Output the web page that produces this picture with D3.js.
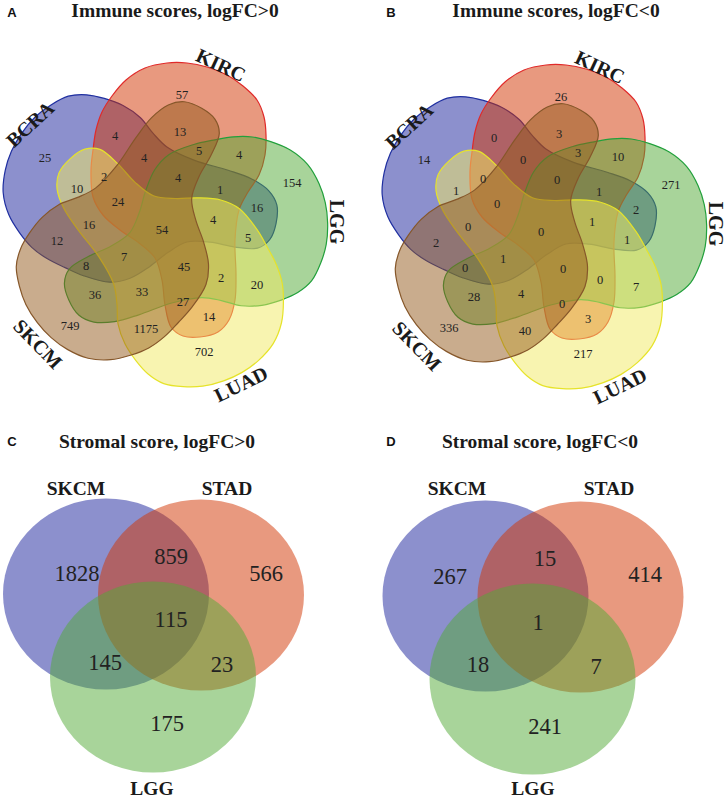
<!DOCTYPE html>
<html><head><meta charset="utf-8">
<script src="https://cdn.jsdelivr.net/npm/d3@7"></script>
<style>body{margin:0;background:#fff} svg{display:block}</style>
</head><body>
<svg id="chart" width="726" height="798"></svg>
<script>
// ================= DATA =================
const fiveSets = ["BCRA", "KIRC", "LGG", "LUAD", "SKCM"];
const fiveKeys = ["B","K","G","L","S"];
const fiveRegions = ["B","K","G","L","S","BK","KS","KGS","KG","BKS","BKL","BL","BKGS","BKG","BKLS","BG","BLS","BKGLS","BKGL","BS","BGL","BGLS","BGS","KGLS","KGL","GL","GS","GLS","KLS","KL","LS"];
const immuneUp   = [25,57,154,702,749,4,13,5,4,4,2,10,4,1,24,16,16,54,4,12,5,7,8,45,2,20,36,33,27,14,1175];
const immuneDown = [14,26,271,217,336,0,3,3,10,0,0,1,0,1,0,2,0,0,1,2,1,1,0,0,0,7,28,4,0,3,40];

const threeSets = ["SKCM", "STAD", "LGG"];
const threeRegions = ["S","ST","T","STL","SL","TL","L"];
const stromalUp   = [1828,859,566,115,145,23,175];
const stromalDown = [267,15,414,1,18,7,241];

const titles = ["Immune scores, logFC>0","Immune scores, logFC<0","Stromal score, logFC>0","Stromal score, logFC<0"];
const panelLetters = ["A","B","C","D"];

// ================= LAYOUT / STYLE =================
const SERIF = "'Liberation Serif', 'Times New Roman', serif";
const SANS = "'Liberation Sans', Arial, sans-serif";
const colors5 = {B:"#1a229c", K:"#d23300", G:"#52aa36", L:"#f2ea62", S:"#935a1c"};
const strokes5 = {B:"#1f2fa0", K:"#e02a2a", G:"#22a03c", L:"#e6e32a", S:"#86572a"};
const colors3 = ["#1a229c","#d23300","#52aa36"];

// petal template (KIRC petal, relative to diagram centre); other petals are rotations by 72 deg
const petal = [[-69,-58],[-67,-78],[-64,-98],[-58,-116],[-48,-132],[-34,-148],[-15,-160],[7,-165],[27,-165],[47,-161],[67,-153],[83,-142],[97,-128],[104,-111],[106,-93],[105,-73],[99,-53],[88,-36],[79,-18],[75,12],[76,47],[75,72],[69,92],[58,104],[40,109],[23,108],[11,99],[5,77],[2,52],[-5,30],[-21,15],[-40,2],[-57,-13],[-67,-31]];
const petalAngle = {B:-72, K:0, G:72, L:144, S:216};
const petalShift = {B:[0,0], K:[0,0], G:[0,0], L:[7,-5], S:[10,-8]};

const regionPos5 = {B:[45,158],K:[182,95],G:[292,183],L:[204,352],S:[70,326],BK:[115,136],KS:[180,132],KGS:[199,151],KG:[239,155],BKS:[144,158],BKL:[104,177],BL:[77,189],BKGS:[178,178],BKG:[220,190],BKLS:[118,202],BG:[257,208],BLS:[89,225],BKGLS:[162,230],BKGL:[213,220],BS:[57,241],BGL:[248,238],BGLS:[124,257],BGS:[86,266],KGLS:[184,267],KGL:[221,278],GL:[257,285],GS:[95,295],GLS:[142,292],KLS:[183,302],KL:[209,317],LS:[146,329]};
const setLabelPos5 = {B:[30,124,-43], K:[221,65,25], G:[337,222,90], L:[241,384,-26], S:[38,344,46]};
const centre5 = [160,228];

const svg = d3.select("#chart");

function fivePanel(offset, values) {
  const x = d3.scaleLinear().domain([0,1]).range([offset[0], offset[0]+1]);
  const y = d3.scaleLinear().domain([0,1]).range([offset[1], offset[1]+1]);
  const g = svg.append("g");
  const line = d3.line().x(d=>x(d[0])).y(d=>y(d[1])).curve(d3.curveCatmullRomClosed.alpha(0.5));
  fiveKeys.forEach(k => {
    const a = petalAngle[k]*Math.PI/180, c = Math.cos(a), s = Math.sin(a);
    const sh = petalShift[k];
    const pts = petal.map(([px,py]) => [centre5[0] + sh[0] + px*c - py*s, centre5[1] + sh[1] + px*s + py*c]);
    g.append("path").attr("d", line(pts))
      .attr("fill", colors5[k]).attr("fill-opacity", 0.5)
      .attr("stroke", strokes5[k]).attr("stroke-width", 1.2);
  });
  fiveRegions.forEach((r,i) => {
    const p = regionPos5[r];
    g.append("text").attr("x", x(p[0])).attr("y", y(p[1])).attr("dy","0.35em")
      .attr("text-anchor","middle").style("font-family", SERIF)
      .attr("font-size", 12.5).attr("fill","#222").text(values[i]);
  });
  fiveKeys.forEach((k,i) => {
    const p = setLabelPos5[k];
    g.append("text").attr("transform", `translate(${x(p[0])},${y(p[1])}) rotate(${p[2]})`)
      .attr("dy","0.35em").attr("text-anchor","middle")
      .style("font-family", SERIF).attr("font-weight","bold")
      .attr("font-size", 20).attr("fill","#1a1a1a").text(fiveSets[i]);
  });
}

function threePanel(centres, radii, numPos, labelPos, values) {
  const g = svg.append("g");
  centres.forEach((c,i) => {
    g.append("ellipse").attr("cx", c[0]).attr("cy", c[1]).attr("rx", radii[0]).attr("ry", radii[1])
      .attr("fill", colors3[i]).attr("fill-opacity", 0.5);
  });
  threeRegions.forEach((r,i) => {
    const p = numPos[i];
    g.append("text").attr("x", p[0]).attr("y", p[1]).attr("dy","0.35em").attr("text-anchor","middle")
      .style("font-family", SERIF).attr("font-size", 22.5)
      .attr("fill","#222").text(values[i]);
  });
  threeSets.forEach((n,i) => {
    const p = labelPos[i];
    g.append("text").attr("x", p[0]).attr("y", p[1]).attr("dy","0.35em").attr("text-anchor","middle")
      .style("font-family", SERIF).attr("font-weight","bold")
      .attr("font-size", 19.5).attr("fill","#1a1a1a").text(n);
  });
}

// titles
const titlePos = [[175,17],[556,17],[157,448],[540,448]];
const letterPos = [[12,17],[391,17],[12,446],[391,446]];
titles.forEach((t,i) => {
  svg.append("text").attr("x", titlePos[i][0]).attr("y", titlePos[i][1]).attr("text-anchor","middle")
    .style("font-family", SERIF).attr("font-weight","bold")
    .attr("font-size", 19.5).attr("fill","#1a1a1a").text(t);
  svg.append("text").attr("x", letterPos[i][0]).attr("y", letterPos[i][1]).attr("text-anchor","middle")
    .style("font-family", SANS).attr("font-weight","bold")
    .attr("font-size", 13).attr("fill","#111").text(panelLetters[i]);
});

fivePanel([0,0], immuneUp);
fivePanel([379,2], immuneDown);

threePanel([[106,594],[201,595],[153,677]], [103,95.5],
  [[77,573],[171,556],[266,573],[171,619],[105,662],[222,664],[167,723]],
  [[76,488],[227,488],[152,788]], stromalUp);
threePanel([[485.5,596],[580.5,597],[532.5,679]], [103,95.5],
  [[450,576],[545,558],[645,574],[538,622],[478,664],[596,666],[545,726]],
  [[457,488],[609,488],[533,788]], stromalDown);
</script>
</body></html>
